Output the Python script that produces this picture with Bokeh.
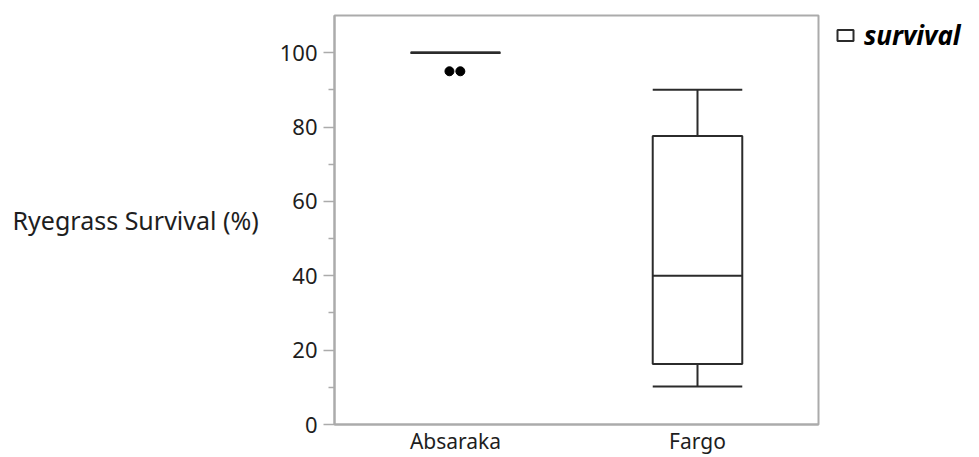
from bokeh.plotting import figure
from bokeh.models import ColumnDataSource, FixedTicker, Legend, LegendItem, Range1d
from bokeh.transform import dodge
from bokeh.embed import file_html
from bokeh.resources import INLINE

# ---- data ----
categories = ["Absaraka", "Fargo"]
q1 = [100, 16.3]
median = [100, 40]
q3 = [100, 77.6]
whisker_low = [100, 10.2]
whisker_high = [100, 90]
outlier_site = ["Absaraka", "Absaraka"]
outlier_value = [95, 95]
outlier_jitter = [-0.025, 0.02]   # horizontal spread of coincident points
y_major = [0, 20, 40, 60, 80, 100]
y_minor = [10, 30, 50, 70, 90]

FONT = "Noto Sans"
TXT = "#1e1e1e"
GRAY = "#ababab"
LINE = "#2b2b2b"
BOXW = 0.37

src = ColumnDataSource(dict(site=categories, q1=q1, med=median, q3=q3,
                            lo=whisker_low, hi=whisker_high))

p = figure(x_range=categories, y_range=Range1d(0, 110),
           frame_width=484, frame_height=409,
           output_backend="svg", toolbar_location=None,
           min_border_left=334, min_border_top=15, min_border_bottom=0,
           min_border_right=155)
p.background_fill_color = "white"
p.border_fill_color = "white"
p.outline_line_color = GRAY
p.outline_line_width = 2
p.xgrid.visible = False
p.ygrid.visible = False

# whiskers
p.segment(x0="site", y0="lo", x1="site", y1="q1", source=src, line_color=LINE, line_width=2)
p.segment(x0="site", y0="q3", x1="site", y1="hi", source=src, line_color=LINE, line_width=2)
p.segment(x0=dodge("site", -BOXW / 2, range=p.x_range), y0="lo",
          x1=dodge("site", BOXW / 2, range=p.x_range), y1="lo", source=src,
          line_color=LINE, line_width=2)
p.segment(x0=dodge("site", -BOXW / 2, range=p.x_range), y0="hi",
          x1=dodge("site", BOXW / 2, range=p.x_range), y1="hi", source=src,
          line_color=LINE, line_width=2)
# box
box_r = p.vbar(x="site", bottom="q1", top="q3", width=BOXW, source=src,
               fill_color="white", line_color=LINE, line_width=2)
# median
p.segment(x0=dodge("site", -BOXW / 2, range=p.x_range), y0="med",
          x1=dodge("site", BOXW / 2, range=p.x_range), y1="med", source=src,
          line_color=LINE, line_width=2)

# outliers
for site, val, off in zip(outlier_site, outlier_value, outlier_jitter):
    osrc = ColumnDataSource(dict(site=[site], v=[val]))
    p.scatter(x=dodge("site", off, range=p.x_range), y="v", source=osrc,
              size=9, color="black")

# axes
yax = p.yaxis[0]
yax.ticker = FixedTicker(ticks=y_major, minor_ticks=y_minor)
yax.axis_line_color = GRAY
yax.axis_line_width = 2
yax.major_tick_line_color = GRAY
yax.minor_tick_line_color = GRAY
yax.major_tick_line_width = 1.5
yax.minor_tick_line_width = 1.5
yax.major_tick_out = 11
yax.major_tick_in = 0
yax.minor_tick_out = 6
yax.minor_tick_in = 0
yax.major_label_text_font = FONT
yax.major_label_text_font_size = "22px"
yax.major_label_text_color = TXT
yax.major_label_standoff = 6
yax.axis_label = "Ryegrass Survival (%)"
yax.axis_label_orientation = "horizontal"
yax.axis_label_text_font = FONT
yax.axis_label_text_font_size = "25px"
yax.axis_label_text_font_style = "normal"
yax.axis_label_text_color = TXT
yax.axis_label_standoff = 18

xax = p.xaxis[0]
xax.axis_line_color = GRAY
xax.axis_line_width = 2
xax.major_tick_line_color = None
xax.minor_tick_line_color = None
xax.major_tick_out = 0
xax.major_tick_in = 0
xax.major_label_text_font = FONT
xax.major_label_text_font_size = "21px"
xax.major_label_text_color = TXT
xax.major_label_standoff = 2

legend = Legend(items=[LegendItem(label="survival", renderers=[box_r])],
                location=(17, 371), border_line_color=None,
                background_fill_alpha=0, padding=0, margin=0, spacing=0,
                glyph_width=20, glyph_height=14, label_standoff=9,
                label_text_font=FONT, label_text_font_size="26px",
                label_text_font_style="bold italic", label_text_color="black")
p.add_layout(legend, "right")

open("out.html", "w").write(file_html(p, INLINE))
